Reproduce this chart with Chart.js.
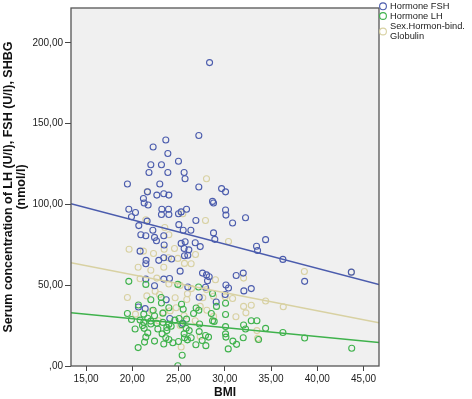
<!DOCTYPE html>
<html>
<head>
<meta charset="utf-8">
<script src="https://cdn.jsdelivr.net/npm/chart.js@4.4.1/dist/chart.umd.min.js"></script>
<style>
html,body{margin:0;padding:0;background:#fff;}
#wrap{width:472px;height:399px;position:relative;}
</style>
</head>
<body>
<div id="wrap"><canvas id="c" width="472" height="399"></canvas></div>
<script>
// ---- data ----
const seriesNames = ['Hormone FSH', 'Hormone LH', ['Sex.Hormon-bind.', 'Globulin']];
const xTicks = [15, 20, 25, 30, 35, 40, 45];
const yTicks = [0, 50, 100, 150, 200];
const xRange = [13.37, 46.67];
const yRange = [0, 221.6];

// [BMI, concentration]
const fshPoints = [
 [28.35,187.8],[27.19,142.7],[23.62,139.9],[22.25,135.6],[23.84,131.5],[24.99,126.7],[22.0,124.6],[23.15,124.6],
 [25.6,119.8],[21.8,119.8],[23.84,119.8],[25.7,115.9],[19.47,112.7],[22.97,112.7],[27.19,110.8],[29.65,109.8],
 [30.08,107.8],[21.64,107.8],[23.4,106.6],[22.65,105.8],[23.95,105.8],[21.2,103.7],[28.67,101.9],[28.78,100.9],
 [21.28,100.9],[21.71,99.7],[19.62,97.0],[23.19,97.0],[23.91,97.0],[25.86,97.0],[30.08,96.6],[25.28,95.4],
 [20.34,95.0],[24.99,94.2],[23.15,93.8],[23.95,93.8],[30.12,93.4],[19.91,92.4],[32.24,91.8],[26.87,90.1],
 [21.6,89.7],[30.84,88.5],[25.03,87.5],[20.7,86.9],[22.22,84.0],[26.33,84.0],[25.5,84.0],[28.78,82.4],
 [20.92,81.2],[21.46,80.6],[23.4,80.6],[22.4,79.6],[28.92,78.4],[34.41,78.2],[22.61,77.5],[25.71,76.9],
 [25.28,75.9],[26.8,76.3],[23.44,74.9],[27.34,73.9],[33.43,74.1],[25.6,72.7],[26.11,71.9],[33.54,71.5],
 [20.84,71.1],[26.0,68.6],[25.64,68.2],[23.4,67.0],[24.24,66.2],[36.28,66.0],[22.86,65.4],[21.49,65.4],
 [21.46,63.3],[25.17,58.7],[43.68,58.1],[27.59,57.5],[31.99,57.5],[28.02,56.4],[31.23,56.0],[28.31,55.2],
 [24.02,54.2],[23.4,53.8],[21.46,53.8],[28.13,52.8],[38.63,52.4],[22.4,49.7],[26.0,48.9],[30.12,50.1],
 [30.4,48.3],[32.86,47.9],[27.91,48.7],[32.06,46.5],[27.23,42.6],[30.04,44.3],[29.07,39.6],[20.66,36.5],
 [21.39,35.5],[23.66,41.0],[24.05,29.4],[25.46,26.4]
];
const lhPoints = [
 [19.62,52.4],[21.46,50.5],[24.92,50.5],[27.16,48.9],[28.67,44.9],[23.12,42.4],[22.0,41.0],[23.15,39.0],
 [30.08,38.8],[25.32,38.2],[29.1,36.9],[23.95,36.1],[26.9,35.9],[20.66,37.8],[25.5,35.1],[27.19,34.5],
 [22.25,34.5],[19.47,32.5],[21.24,32.1],[23.3,32.7],[28.54,32.5],[26.62,32.5],[30.08,31.9],[19.91,28.8],
 [21.67,29.6],[22.4,31.1],[22.0,27.8],[20.84,28.4],[23.3,27.0],[24.6,28.4],[25.06,29.4],[25.86,29.0],
 [22.65,26.4],[23.95,25.8],[24.2,24.6],[25.35,25.6],[27.27,26.0],[28.67,28.0],[28.85,27.6],[30.08,24.4],
 [32.03,25.4],[32.24,22.9],[32.86,28.0],[33.47,28.0],[34.41,23.3],[36.28,20.7],[38.63,17.3],[43.72,11.0],
 [20.3,22.9],[21.28,23.3],[22.76,22.9],[23.73,21.9],[23.22,19.9],[21.46,17.9],[21.32,14.8],[20.63,11.4],
 [22.4,15.4],[23.4,13.6],[23.62,17.5],[23.95,16.4],[24.99,15.2],[25.39,6.7],[24.92,0.2],[25.6,19.9],
 [25.96,16.2],[26.36,17.5],[26.87,13.2],[27.55,15.8],[27.95,12.6],[28.24,17.9],[30.08,19.9],[30.12,17.9],
 [30.37,10.6],[30.87,15.4],[31.27,13.4],[31.99,17.5],[33.65,16.4],[27.23,21.3],[26.15,21.9],[25.82,23.3],
 [22.0,26.0],[21.1,25.0],[23.73,23.8],[27.91,18.9],[25.64,17.5],[21.24,27.0],[21.67,20.5],[24.38,14.4]
];
const shbgPoints = [
 [28.02,115.9],[21.6,108.0],[25.46,94.2],[27.91,90.1],[21.46,90.5],[23.51,85.7],[23.95,81.2],[30.4,77.1],
 [19.65,72.3],[21.2,71.1],[23.44,72.3],[26.83,69.0],[23.91,67.0],[24.92,66.6],[25.64,63.5],[26.36,63.3],
 [20.63,61.1],[23.4,61.1],[22.0,59.3],[22.65,54.4],[28.99,53.4],[32.03,54.4],[38.6,58.5],[43.68,58.1],
 [20.84,54.0],[23.95,50.8],[25.17,49.9],[26.4,47.9],[25.96,44.7],[19.47,42.4],[21.57,43.4],[22.94,44.3],
 [24.63,42.2],[25.89,41.2],[27.62,42.2],[28.78,43.2],[30.84,41.8],[34.41,40.2],[36.32,36.7],[32.03,36.9],
 [32.86,37.6],[27.34,36.9],[24.09,34.1],[23.37,33.1],[28.06,34.5],[31.2,30.5],[32.28,32.9],[20.34,32.1],
 [25.6,31.1],[25.17,25.0],[33.47,21.9],[33.54,17.1],[27.34,18.3],[25.28,11.8],[22.47,46.3],[22.11,34.1],
 [22.83,28.0],[26.8,28.0],[28.78,30.7],[24.56,72.7],[22.29,69.6],[30.04,42.8],[28.02,47.3],[24.74,36.1]
];
// fit-line end points [BMI, value] at the left and right edges of the plot
const fshFit = [[13.37,100.5],[46.67,50.4]];
const lhFit = [[13.37,32.9],[46.67,14.6]];
const shbgFit = [[13.37,63.9],[46.67,26.8]];

// ---- styling ----
const colFSH = '#4b5cad';
const colLH = '#3fb24c';
const colSHBG = '#d8d1a2';
const toXY = arr => arr.map(p => ({x: p[0], y: p[1]}));
const fmt = v => { let s = Number(v).toFixed(2).replace('.', ','); if (s.startsWith('0,')) s = s.slice(1); return s; };

function pointSet(label, pts, color, order) {
  return {type: 'scatter', label, data: toXY(pts), order,
    pointRadius: 3, pointHoverRadius: 3, pointBorderWidth: 1.1,
    pointBackgroundColor: 'rgba(0,0,0,0)', pointBorderColor: color, borderColor: color, backgroundColor: color,
    showLine: false};
}
function lineSet(pts, color) {
  return {type: 'scatter', label: '', data: toXY(pts), order: 0, showLine: true,
    borderColor: color, borderWidth: 1.5, pointRadius: 0, pointHoverRadius: 0, fill: false, isFit: true};
}

const framePlugin = {
  id: 'frame',
  beforeDatasetsDraw(chart) {
    const {ctx, chartArea: a} = chart;
    ctx.save();
    ctx.fillStyle = '#f0f0f0';
    ctx.fillRect(a.left, a.top, a.right - a.left, a.bottom - a.top);
    ctx.restore();
  },
  afterDraw(chart) {
    const {ctx, chartArea: a} = chart;
    ctx.save();
    ctx.strokeStyle = '#555';
    ctx.lineWidth = 1.3;
    ctx.strokeRect(a.left, a.top, a.right - a.left, a.bottom - a.top);
    // legend
    const ds = chart.data.datasets.filter(d => !d.isFit);
    const mx = 383, tx = 390;
    const rows = [{cy: 6.3, ty: [6.7]}, {cy: 16, ty: [16.5]}, {cy: 31.5, ty: [26.5, 36.5]}];
    ctx.font = '9.3px "Liberation Sans", Arial, sans-serif';
    ctx.textBaseline = 'middle';
    ctx.textAlign = 'left';
    ds.forEach((d, i) => {
      const r = rows[i];
      ctx.beginPath();
      ctx.arc(mx, r.cy, 3.4, 0, Math.PI * 2);
      ctx.strokeStyle = d.pointBorderColor;
      ctx.lineWidth = 1.1;
      ctx.stroke();
      ctx.fillStyle = '#1a1a1a';
      const lines = Array.isArray(d.label) ? d.label : [d.label];
      lines.forEach((t, k) => ctx.fillText(t, tx, r.ty[k]));
    });
    ctx.restore();
  }
};

new Chart(document.getElementById('c'), {
  type: 'scatter',
  data: {
    datasets: [
      pointSet(seriesNames[0], fshPoints, colFSH, 2),
      pointSet(seriesNames[1], lhPoints, colLH, 1),
      pointSet(seriesNames[2], shbgPoints, colSHBG, 3),
      lineSet(fshFit, colFSH),
      lineSet(lhFit, colLH),
      lineSet(shbgFit, colSHBG)
    ]
  },
  options: {
    responsive: false,
    animation: false,
    devicePixelRatio: 1,
    layout: {padding: {left: 0, top: 2, right: 93, bottom: 0}},
    plugins: {legend: {display: false}, tooltip: {enabled: false}},
    scales: {
      x: {
        type: 'linear', min: xRange[0], max: xRange[1],
        afterBuildTicks: s => { s.ticks = xTicks.map(v => ({value: v})); },
        afterFit: s => { s.height = 33; },
        grid: {drawOnChartArea: false, drawTicks: true, tickLength: 5, tickColor: '#444', lineWidth: 1},
        border: {display: false},
        ticks: {callback: v => fmt(v), color: '#222', padding: 2, maxRotation: 0, autoSkip: false,
          font: {family: '"Liberation Sans", Arial, sans-serif', size: 10}},
        title: {display: true, text: 'BMI', color: '#111', padding: {top: 0, bottom: 0},
          font: {family: '"Liberation Sans", Arial, sans-serif', size: 12, weight: 'bold', lineHeight: 1}}
      },
      y: {
        type: 'linear', min: yRange[0], max: yRange[1],
        afterBuildTicks: s => { s.ticks = yTicks.map(v => ({value: v})); },
        afterFit: s => { s.width = 71; },
        grid: {drawOnChartArea: false, drawTicks: true, tickLength: 6, tickColor: '#444', lineWidth: 1},
        border: {display: false},
        ticks: {callback: v => fmt(v), color: '#222', padding: 2, autoSkip: false,
          font: {family: '"Liberation Sans", Arial, sans-serif', size: 10}},
        title: {display: true, text: ['Serum concentration of LH (U/l), FSH (U/l), SHBG', '(nmol/l)'], color: '#111',
          padding: {top: 2, bottom: 0},
          font: {family: '"Liberation Sans", Arial, sans-serif', size: 12.5, weight: 'bold', lineHeight: 1.05}}
      }
    }
  },
  plugins: [framePlugin]
});
</script>
</body>
</html>
